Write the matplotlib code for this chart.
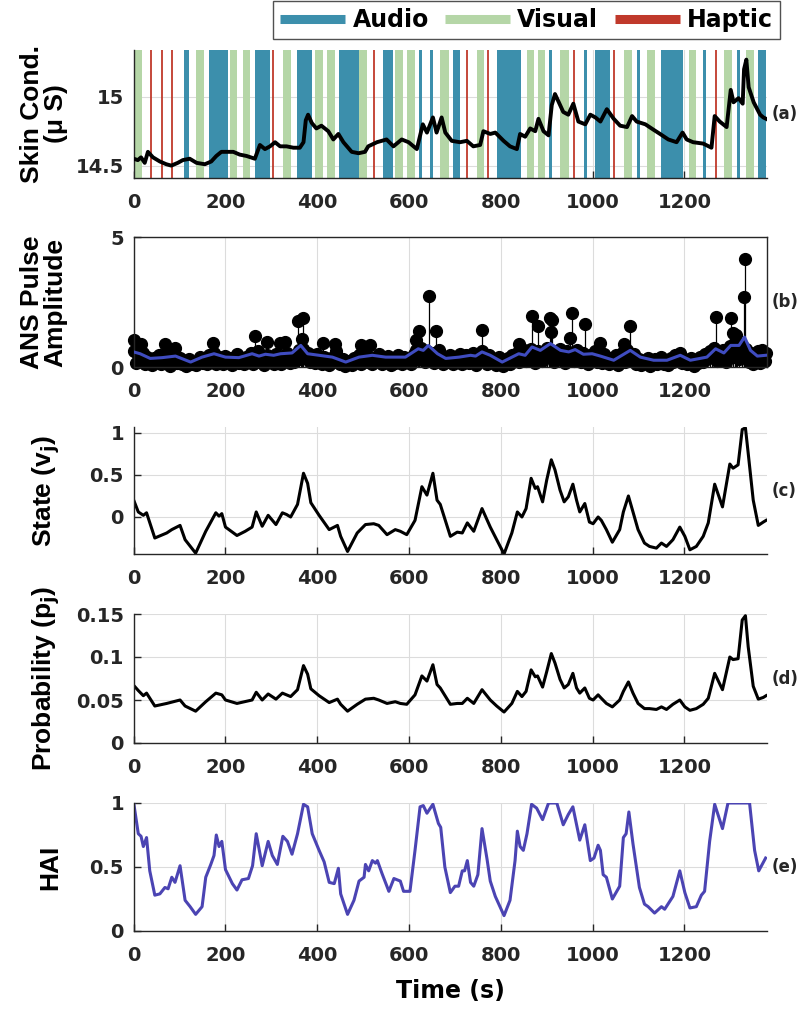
import numpy as np
import matplotlib
matplotlib.use("Agg")
import matplotlib.pyplot as plt
from matplotlib.lines import Line2D

# ---- (a) skin conductance + stimulus events ----
sc_time = [0, 9, 16, 24, 31, 42, 57, 71, 82, 96, 107, 122, 137, 155, 169, 180, 191, 202, 217, 231,
           246, 264, 275, 286, 297, 308, 319, 333, 348, 362, 370, 375, 380, 388, 398, 409, 424, 435,
           446, 457, 475, 490, 504, 511, 530, 551, 566, 584, 599, 617, 630, 639, 652, 660, 671, 679,
           693, 711, 726, 740, 755, 762, 777, 788, 806, 820, 835, 842, 853, 864, 875, 882, 893, 904,
           911, 918, 925, 936, 947, 958, 969, 984, 995, 1006, 1017, 1031, 1046, 1060, 1075, 1086,
           1096, 1115, 1133, 1147, 1165, 1183, 1196, 1205, 1219, 1241, 1259, 1266, 1277, 1292, 1301,
           1307, 1318, 1327, 1330, 1335, 1340, 1351, 1365, 1372, 1378]
sc_value = [14.55, 14.54, 14.56, 14.52, 14.60, 14.56, 14.53, 14.51, 14.50, 14.52, 14.54, 14.55, 14.52,
            14.51, 14.53, 14.57, 14.60, 14.60, 14.60, 14.58, 14.57, 14.55, 14.65, 14.62, 14.64, 14.67,
            14.64, 14.64, 14.63, 14.63, 14.67, 14.83, 14.87, 14.81, 14.77, 14.79, 14.75, 14.69, 14.73,
            14.67, 14.60, 14.59, 14.60, 14.64, 14.67, 14.69, 14.64, 14.69, 14.67, 14.62, 14.80, 14.74,
            14.85, 14.74, 14.85, 14.74, 14.68, 14.67, 14.68, 14.64, 14.65, 14.75, 14.73, 14.74, 14.68,
            14.64, 14.62, 14.73, 14.71, 14.77, 14.75, 14.84, 14.75, 14.72, 14.94, 15.02, 14.97, 14.89,
            14.87, 14.95, 14.82, 14.80, 14.87, 14.85, 14.82, 14.91, 14.84, 14.79, 14.78, 14.86, 14.82,
            14.80, 14.76, 14.73, 14.69, 14.67, 14.74, 14.69, 14.67, 14.66, 14.63, 14.86, 14.82, 14.78,
            15.05, 14.96, 14.99, 14.95, 15.20, 15.27, 15.07, 14.96, 14.87, 14.85, 14.84]

audio_start = [110, 165, 265, 355, 447, 543, 622, 645, 696, 792, 904, 981, 1006, 1097, 1148, 1241, 1315, 1361]
audio_end = [120, 205, 297, 388, 492, 564, 629, 653, 712, 844, 912, 988, 1037, 1104, 1197, 1248, 1322, 1378]
visual_start = [0, 136, 210, 238, 325, 395, 421, 492, 570, 595, 668, 747, 856, 880, 930, 1069, 1119, 1210, 1287, 1335]
visual_end = [19, 153, 226, 254, 343, 412, 439, 509, 587, 613, 686, 764, 873, 897, 948, 1086, 1137, 1226, 1304, 1351]
haptic_time = [37, 61, 83, 303, 523, 726, 773, 960, 1046, 1268]

# ---- (b) ANS pulse amplitudes ----
beat_time = np.arange(0, 1380, 5)
beat_amp = [0.62, 0.15, 0.45, 0.30, 0.55, 0.10, 0.40, 0.25, 0.08, 0.35, 0.20, 0.48, 0.12, 0.30, 0.52, 0.18, 0.05, 0.40, 0.28, 0.15,
            0.35, 0.10, 0.22, 0.05, 0.30, 0.12, 0.18, 0.08, 0.25, 0.40, 0.15, 0.32, 0.10, 0.45, 0.20, 0.55, 0.12, 0.38, 0.30, 0.10,
            0.42, 0.18, 0.35, 0.08, 0.28, 0.50, 0.15, 0.32, 0.10, 0.40, 0.22, 0.55, 0.12, 0.35, 0.60, 0.20, 0.30, 0.08, 0.45, 0.25,
            0.38, 0.12, 0.50, 0.25, 0.10, 0.42, 0.30, 0.55, 0.15, 0.35, 0.20, 0.48, 0.65, 0.30, 0.70, 0.40, 0.55, 0.20, 0.45, 0.15,
            0.50, 0.30, 0.12, 0.40, 0.25, 0.08, 0.35, 0.18, 0.60, 0.22, 0.10, 0.30, 0.05, 0.15, 0.25, 0.08, 0.35, 0.20, 0.45, 0.12,
            0.30, 0.55, 0.18, 0.40, 0.10, 0.35, 0.25, 0.50, 0.12, 0.30, 0.20, 0.42, 0.08, 0.35, 0.15, 0.45, 0.28, 0.10, 0.38, 0.22,
            0.32, 0.10, 0.50, 0.65, 0.30, 0.75, 0.45, 0.20, 0.60, 0.35, 0.55, 0.15, 0.40, 0.65, 0.25, 0.10, 0.35, 0.20, 0.45, 0.12,
            0.38, 0.20, 0.50, 0.10, 0.32, 0.45, 0.15, 0.28, 0.55, 0.08, 0.40, 0.25, 0.60, 0.35, 0.12, 0.48, 0.20, 0.30, 0.08, 0.40,
            0.15, 0.05, 0.25, 0.35, 0.10, 0.45, 0.30, 0.55, 0.20, 0.40, 0.65, 0.25, 0.50, 0.70, 0.35, 0.15, 0.60, 0.45, 0.25, 0.55,
            0.75, 0.40, 0.65, 0.20, 0.55, 0.30, 0.70, 0.45, 0.15, 0.60, 0.35, 0.50, 0.25, 0.65, 0.40, 0.20, 0.55, 0.30, 0.10, 0.45,
            0.35, 0.60, 0.20, 0.40, 0.15, 0.50, 0.25, 0.10, 0.35, 0.20, 0.45, 0.08, 0.30, 0.55, 0.18, 0.65, 0.40, 0.25, 0.50, 0.12,
            0.30, 0.08, 0.25, 0.15, 0.35, 0.05, 0.20, 0.30, 0.10, 0.25, 0.40, 0.12, 0.22, 0.08, 0.35, 0.18, 0.45, 0.25, 0.55, 0.15,
            0.30, 0.10, 0.20, 0.35, 0.05, 0.25, 0.15, 0.40, 0.20, 0.50, 0.30, 0.60, 0.45, 0.75, 0.25, 0.55, 0.35, 0.65, 0.20, 0.50,
            0.80, 0.40, 0.95, 0.60, 0.30, 0.85, 0.50, 0.70, 0.20, 0.55, 0.10, 0.35, 0.60, 0.15, 0.45, 0.25]
peak_time = [0, 16, 68, 91, 172, 265, 291, 318, 330, 359, 366, 370, 413, 439, 496, 514, 616, 621, 643, 659,
             759, 839, 868, 881, 907, 910, 912, 950, 955, 984, 1017, 1068, 1082, 1268, 1301, 1305, 1312,
             1330, 1333, 1369, 1378]
peak_amp = [1.04, 0.90, 0.87, 0.74, 0.92, 1.19, 0.96, 0.92, 0.96, 1.78, 1.06, 1.87, 0.92, 0.90, 0.83, 0.83, 1.04,
            1.38, 2.74, 1.40, 1.42, 0.90, 1.97, 1.58, 1.87, 1.36, 1.81, 1.13, 2.06, 1.64, 0.92, 0.87, 1.58,
            1.91, 1.87, 1.32, 1.23, 2.68, 4.15, 0.67, 0.54]
mean_time = [0, 14, 36, 62, 91, 124, 149, 175, 200, 229, 258, 273, 287, 305, 320, 345, 364, 379, 404, 433,
             462, 491, 520, 549, 592, 620, 631, 642, 662, 680, 709, 734, 745, 759, 777, 803, 839, 853, 868,
             886, 908, 930, 948, 962, 980, 999, 1017, 1046, 1082, 1104, 1133, 1162, 1191, 1213, 1249, 1268,
             1286, 1301, 1319, 1331, 1344, 1359, 1377]
mean_amp = [0.58, 0.51, 0.33, 0.36, 0.42, 0.19, 0.38, 0.51, 0.38, 0.36, 0.51, 0.42, 0.49, 0.45, 0.51, 0.54, 0.83,
            0.51, 0.45, 0.38, 0.19, 0.38, 0.45, 0.38, 0.38, 0.70, 0.64, 0.83, 0.51, 0.33, 0.38, 0.45, 0.42,
            0.58, 0.45, 0.19, 0.51, 0.45, 0.77, 0.64, 0.90, 0.64, 0.58, 0.67, 0.49, 0.51, 0.42, 0.26, 0.64,
            0.38, 0.26, 0.26, 0.45, 0.26, 0.38, 0.70, 0.54, 0.83, 0.83, 1.15, 0.64, 0.42, 0.45]

# ---- (c) state, (d) probability ----
state_time = [0, 10, 21, 28, 46, 72, 83, 101, 112, 135, 157, 179, 186, 192, 200, 225, 243, 258, 267, 280,
              293, 310, 324, 333, 342, 357, 370, 379, 386, 404, 426, 444, 451, 466, 487, 505, 523, 534, 552, 570,
              581, 595, 613, 628, 639, 652, 661, 668, 690, 705, 716, 727, 741, 759, 777, 791, 807, 824, 836, 846,
              855, 866, 875, 880, 891, 900, 910, 918, 929, 938, 947, 957, 965, 972, 983, 993, 1001, 1012, 1019, 1030,
              1043, 1059, 1067, 1078, 1088, 1099, 1113, 1124, 1139, 1150, 1161, 1175, 1190, 1201, 1212, 1226, 1241,
              1252, 1266, 1283, 1299, 1306, 1317, 1326, 1333, 1339, 1350, 1361, 1372, 1378]
state_value = [0.20, 0.06, 0.02, 0.05, -0.25, -0.19, -0.15, -0.10, -0.27, -0.43, -0.17, 0.05, 0.01, 0.04, -0.12,
               -0.22, -0.17, -0.12, 0.06, -0.11, 0.02, -0.09, 0.05, 0.03, 0.0, 0.15, 0.52, 0.40, 0.17, 0.02,
               -0.15, -0.10, -0.23, -0.41, -0.19, -0.09, -0.08, -0.10, -0.21, -0.15, -0.17, -0.21, -0.04, 0.36,
               0.26, 0.52, 0.20, 0.15, -0.23, -0.18, -0.19, -0.07, -0.17, 0.10, -0.12, -0.27, -0.44, -0.19, 0.06,
               0.0, 0.10, 0.46, 0.34, 0.36, 0.18, 0.44, 0.68, 0.56, 0.32, 0.18, 0.24, 0.39, 0.20, 0.06, 0.16,
               -0.06, -0.08, 0.0, -0.04, -0.15, -0.30, -0.15, 0.06, 0.25, 0.06, -0.15, -0.31, -0.35, -0.37, -0.31,
               -0.35, -0.27, -0.12, -0.23, -0.39, -0.35, -0.23, -0.07, 0.39, 0.12, 0.63, 0.58, 0.62, 1.04, 1.06,
               0.76, 0.20, -0.10, -0.06, -0.04]
prob_time = [0, 10, 21, 28, 46, 72, 101, 112, 135, 157, 179, 192, 200, 225, 258, 267, 280, 293, 310, 324,
             342, 357, 370, 379, 386, 404, 426, 444, 451, 466, 487, 505, 523, 534, 552, 570,
             581, 595, 613, 628, 639, 652, 661, 668, 690, 705, 716, 727, 741, 759, 777, 791, 807, 824, 836, 846,
             855, 866, 875, 880, 891, 900, 910, 918, 929, 938, 947, 957, 965, 972, 983, 993, 1001, 1012, 1019, 1030,
             1043, 1059, 1067, 1078, 1088, 1099, 1113, 1124, 1139, 1150, 1161, 1175, 1190, 1201, 1212, 1226, 1241,
             1252, 1266, 1283, 1299, 1306, 1317, 1326, 1333, 1339, 1350, 1361, 1372, 1378]
prob_value = [0.067, 0.061, 0.055, 0.058, 0.043, 0.046, 0.050, 0.043, 0.037, 0.048, 0.058, 0.056, 0.050, 0.046,
              0.050, 0.059, 0.050, 0.057, 0.051, 0.058, 0.054, 0.062, 0.090, 0.080, 0.063, 0.055, 0.047, 0.051,
              0.045, 0.037, 0.045, 0.051, 0.052, 0.050, 0.046, 0.048, 0.046, 0.045, 0.056, 0.078, 0.072, 0.091,
              0.068, 0.064, 0.045, 0.046, 0.046, 0.052, 0.046, 0.062, 0.050, 0.043, 0.036, 0.046, 0.060, 0.054,
              0.060, 0.085, 0.077, 0.078, 0.065, 0.083, 0.104, 0.093, 0.074, 0.064, 0.068, 0.081, 0.064, 0.058,
              0.064, 0.052, 0.050, 0.056, 0.052, 0.046, 0.042, 0.050, 0.060, 0.071, 0.058, 0.046, 0.040, 0.040,
              0.039, 0.042, 0.039, 0.045, 0.050, 0.042, 0.038, 0.040, 0.045, 0.052, 0.081, 0.062, 0.100, 0.097,
              0.098, 0.143, 0.148, 0.112, 0.066, 0.051, 0.053, 0.055]

# ---- (e) HAI ----
hai_time = [0, 10, 16, 21, 28, 35, 46, 57, 68, 75, 83, 90, 101, 112, 123, 135, 149, 157, 168, 175, 180, 186,
            192, 200, 215, 225, 236, 250, 259, 267, 280, 293, 302, 313, 325, 335, 345, 357, 370, 379, 389, 404,
            415, 426, 437, 446, 451, 466, 480, 491, 502, 505, 512, 520, 527, 531, 541, 556, 567, 581, 588, 602,
            613, 624, 631, 639, 652, 664, 669, 678, 690, 700, 708, 716, 721, 727, 734, 741, 750, 759, 770, 777,
            788, 798, 807, 820, 831, 836, 842, 849, 857, 867, 878, 891, 904, 922, 936, 947, 957, 972, 983, 995,
            1003, 1012, 1017, 1023, 1030, 1043, 1059, 1067, 1073, 1079, 1088, 1102, 1113, 1121, 1135, 1150, 1157,
            1175, 1190, 1201, 1212, 1226, 1237, 1244, 1255, 1266, 1283, 1295, 1342, 1353, 1362, 1371, 1377]
hai_value = [1.0, 0.76, 0.74, 0.66, 0.73, 0.47, 0.28, 0.29, 0.34, 0.33, 0.42, 0.38, 0.51, 0.24, 0.19, 0.13,
             0.19, 0.42, 0.52, 0.59, 0.75, 0.66, 0.70, 0.48, 0.37, 0.32, 0.40, 0.41, 0.51, 0.76, 0.51, 0.70, 0.59,
             0.52, 0.74, 0.70, 0.60, 0.76, 0.99, 0.97, 0.76, 0.63, 0.54, 0.38, 0.37, 0.49, 0.29, 0.13, 0.24,
             0.39, 0.42, 0.52, 0.47, 0.55, 0.53, 0.55, 0.45, 0.31, 0.41, 0.39, 0.31, 0.31, 0.63, 0.97, 0.98,
             0.92, 0.99, 0.84, 0.81, 0.50, 0.30, 0.35, 0.35, 0.47, 0.47, 0.55, 0.38, 0.35, 0.44, 0.80, 0.56,
             0.39, 0.27, 0.19, 0.12, 0.24, 0.55, 0.78, 0.66, 0.63, 0.76, 0.99, 0.96, 0.87, 1.0, 1.0, 0.83, 0.91,
             0.97, 0.71, 0.83, 0.55, 0.57, 0.67, 0.63, 0.44, 0.42, 0.25, 0.35, 0.73, 0.76, 0.93, 0.68, 0.34,
             0.21, 0.19, 0.14, 0.19, 0.17, 0.27, 0.47, 0.30, 0.18, 0.19, 0.28, 0.31, 0.70, 0.99, 0.80, 1.0, 1.0,
             0.63, 0.47, 0.53, 0.57]

xticks = [0, 200, 400, 600, 800, 1000, 1200]

AUDIO = "#3c8fac"
VISUAL = "#b5d6a7"
HAPTIC = "#c0392b"
MEAN_BLUE = "#3f4cc0"
HAI_COLOR = "#4b44b3"
SPINE = "#262626"

plt.rcParams['font.family'] = 'DejaVu Sans'
plt.rcParams['font.weight'] = 'bold'
plt.rcParams['font.size'] = 14

fig = plt.figure(figsize=(8, 10.11), dpi=100)
W, H = 800.0, 1011.0
left, right = 133.7, 767.0
tops = [50, 237, 427, 614, 803]
bottoms = [178, 367, 554, 743, 931]
axes = []
for t, b in zip(tops, bottoms):
    axes.append(fig.add_axes([left / W, 1 - b / H, (right - left) / W, (b - t) / H]))


def style(ax, box=False):
    ax.set_xlim(0, 1380)
    ax.set_xticks(xticks)
    ax.tick_params(direction='in', length=5, width=1, colors=SPINE, labelcolor='#262626',
                   labelsize=14)
    ax.tick_params(axis='x', pad=11)
    ax.tick_params(axis='y', pad=7)
    ax.grid(True, color='#dcdcdc', lw=0.8)
    ax.set_axisbelow(True)
    for s in ['left', 'bottom', 'top', 'right']:
        ax.spines[s].set_color(SPINE)
        ax.spines[s].set_linewidth(1.0)
    if not box:
        ax.spines['top'].set_visible(False)
        ax.spines['right'].set_visible(False)
    for lab in ax.get_xticklabels() + ax.get_yticklabels():
        lab.set_fontweight('bold')


ylab_font = dict(family='Liberation Sans', weight='bold', size=19)

# (a)
ax = axes[0]
style(ax)
for s, e in zip(audio_start, audio_end):
    ax.axvspan(s, e, color=AUDIO, lw=0, zorder=1)
for s, e in zip(visual_start, visual_end):
    ax.axvspan(s, e, color=VISUAL, lw=0, zorder=1)
for h in haptic_time:
    ax.axvline(h, color=HAPTIC, lw=1.3, zorder=1.5)
ax.plot(sc_time, sc_value, color='black', lw=2.8, zorder=3)
ax.set_ylim(14.41, 15.34)
ax.set_yticks([14.5, 15])
ax.set_yticklabels(['14.5', '15'])
ax.set_ylabel('Skin Cond.\n(\u03bc S)', **ylab_font, linespacing=1.0)
ax.yaxis.set_label_coords(-0.104, 0.5)

# (b)
ax = axes[1]
style(ax, box=True)
ml, sl, bl = ax.stem(beat_time, beat_amp, linefmt='k-', markerfmt='ko', basefmt=' ')
ml.set_markersize(8.5)
sl.set_linewidth(0.9)
ml.set_clip_on(False)
ml2, sl2, bl2 = ax.stem(peak_time, peak_amp, linefmt='k-', markerfmt='ko', basefmt=' ')
ml2.set_markersize(8.5)
sl2.set_linewidth(0.9)
ml2.set_clip_on(False)
ax.plot(mean_time, mean_amp, color=MEAN_BLUE, lw=2.2, zorder=4)
ax.set_ylim(0, 5)
ax.set_yticks([0, 5])
ax.set_ylabel('ANS Pulse\nAmplitude', **ylab_font, linespacing=1.0)
ax.yaxis.set_label_coords(-0.104, 0.5)

# (c)
ax = axes[2]
style(ax)
ax.plot(state_time, state_value, color='black', lw=2.2)
ax.set_ylim(-0.44, 1.07)
ax.set_yticks([0, 0.5, 1])
ax.set_yticklabels(['0', '0.5', '1'])
ax.set_ylabel('State (v$_\\mathbf{j}$)', **ylab_font)
ax.yaxis.set_label_coords(-0.113, 0.5)

# (d)
ax = axes[3]
style(ax)
ax.plot(prob_time, prob_value, color='black', lw=2.2)
ax.set_ylim(0, 0.15)
ax.set_yticks([0, 0.05, 0.1, 0.15])
ax.set_yticklabels(['0', '0.05', '0.1', '0.15'])
ax.set_ylabel('Probability (p$_\\mathbf{j}$)', **ylab_font)
ax.yaxis.set_label_coords(-0.113, 0.5)

# (e)
ax = axes[4]
style(ax)
ax.plot(hai_time, hai_value, color=HAI_COLOR, lw=2.2)
ax.set_ylim(0, 1)
ax.set_yticks([0, 0.5, 1])
ax.set_yticklabels(['0', '0.5', '1'])
ax.set_ylabel('HAI', **ylab_font)
ax.yaxis.set_label_coords(-0.113, 0.5)
ax.set_xlabel('Time (s)', fontsize=17, fontweight='bold', labelpad=10)

for ax, lab in zip(axes, ['(a)', '(b)', '(c)', '(d)', '(e)']):
    ax.text(1.008, 0.5, lab, transform=ax.transAxes, ha='left', va='center',
            fontsize=12, fontweight='bold', color='#262626')

handles = [Line2D([], [], color=AUDIO, lw=6.5, solid_capstyle='butt'),
           Line2D([], [], color=VISUAL, lw=6.5, solid_capstyle='butt'),
           Line2D([], [], color=HAPTIC, lw=6.5, solid_capstyle='butt')]
leg = fig.legend(handles, ['Audio', 'Visual', 'Haptic'], ncol=3, loc='upper right',
                 bbox_to_anchor=(780 / W, 1 - 1 / H), frameon=True, fancybox=False,
                 prop=dict(weight='bold', size=17), handlelength=2.75, columnspacing=0.7,
                 handletextpad=0.3, borderpad=0.3, borderaxespad=0)
leg.get_frame().set_edgecolor('#262626')
leg.get_frame().set_linewidth(1.0)

fig.savefig('out.png', dpi=100)
